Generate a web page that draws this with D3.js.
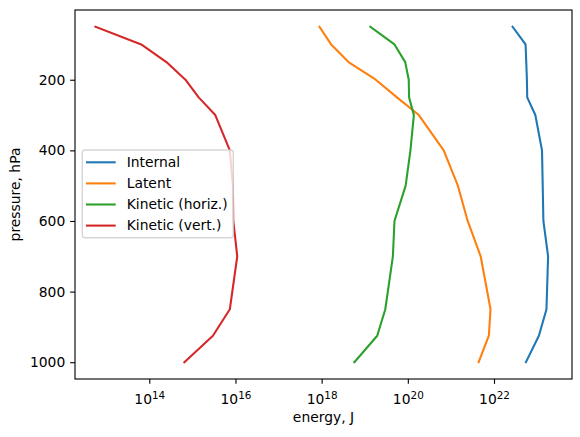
<!DOCTYPE html>
<html>
<head>
<meta charset="utf-8">
<script src="https://cdn.jsdelivr.net/npm/d3@7"></script>
<style>
  body { margin: 0; background: #fff; }
  text { font-family: "DejaVu Sans", sans-serif; fill: #000; }
</style>
</head>
<body>
<div id="chart"></div>
<script>
// pressure levels, hPa
const pressure = [50, 100, 150, 200, 250, 300, 400, 500, 600, 700, 850, 925, 1000];

// energy per level, J
const internal = [2.7e22, 5.4e22, 5.6e22, 5.8e22, 5.9e22, 9.1e22, 1.3e23, 1.35e23, 1.4e23, 1.8e23, 1.65e23, 1.1e23, 5.5e22];
const latent = [8.9e17, 1.66e18, 4.2e18, 1.8e19, 5.6e19, 1.8e20, 6.8e20, 1.45e21, 2.45e21, 4.9e21, 8.3e21, 7.6e21, 4.4e21];
const kineticHoriz = [1.35e19, 4.9e19, 8.7e19, 1.05e20, 1.07e20, 1.38e20, 1.15e20, 8.9e19, 4.9e19, 4.5e19, 3.0e19, 1.95e19, 5.75e18];
const kineticVert = [5.6e12, 6.5e13, 2.5e14, 6.9e14, 1.4e15, 3.4e15, 7.4e15, 8.7e15, 8.9e15, 1.1e16, 7.4e15, 3.0e15, 6.5e14];

const seriesNames = ['Internal', 'Latent', 'Kinetic (horiz.)', 'Kinetic (vert.)'];
const seriesValues = [internal, latent, kineticHoriz, kineticVert];
const colors = ['#1f77b4', '#ff7f0e', '#2ca02c', '#d62728'];

const xTicks = [1e14, 1e16, 1e18, 1e20, 1e22];
const yTicks = [200, 400, 600, 800, 1000];

const W = 580, H = 437;
const m = { left: 75, right: 572, top: 10, bottom: 379 };
const pt = 100 / 72;
const fs = 10 * pt;

const svg = d3.select('#chart').append('svg')
  .attr('width', W).attr('height', H);

const x = d3.scaleLog()
  .domain([Math.pow(10, 12.276), Math.pow(10, 23.81)])
  .range([m.left, m.right]);
const y = d3.scaleLinear()
  .domain([2.5, 1047.5])
  .range([m.top, m.bottom]);

// lines
const line = d3.line()
  .x(d => x(d[0]))
  .y(d => y(d[1]));

seriesValues.forEach((vals, i) => {
  svg.append('path')
    .datum(vals.map((v, j) => [v, pressure[j]]))
    .attr('d', line)
    .attr('fill', 'none')
    .attr('stroke', colors[i])
    .attr('stroke-width', 1.5 * pt)
    .attr('stroke-linejoin', 'round')
    .attr('stroke-linecap', 'square');
});

// axes
const xAxis = svg.append('g')
  .attr('transform', `translate(0,${m.bottom})`)
  .call(d3.axisBottom(x).tickValues(xTicks).tickSize(3.5 * pt).tickFormat(''));
xAxis.select('.domain').remove();
xAxis.selectAll('line').attr('stroke', '#000').attr('stroke-width', 0.8 * pt);
xAxis.selectAll('.tick text').remove();
xAxis.selectAll('.tick').append('text')
  .attr('y', 25)
  .attr('text-anchor', 'middle')
  .style('font-size', fs + 'px')
  .each(function(d) {
    const t = d3.select(this);
    t.append('tspan').text('10');
    t.append('tspan')
      .attr('dy', -4.7)
      .style('font-size', (fs * 0.75) + 'px')
      .text(Math.round(Math.log10(d)));
  });

const yAxis = svg.append('g')
  .attr('transform', `translate(${m.left},0)`)
  .call(d3.axisLeft(y).tickValues(yTicks).tickFormat(d3.format('d'))
    .tickSize(3.5 * pt).tickPadding(3.5 * pt));
yAxis.select('.domain').remove();
yAxis.selectAll('line').attr('stroke', '#000').attr('stroke-width', 0.8 * pt);
yAxis.selectAll('text')
  .attr('fill', '#000')
  .style('font-family', '"DejaVu Sans", sans-serif')
  .style('font-size', fs + 'px');

// frame
svg.append('rect')
  .attr('x', m.left).attr('y', m.top)
  .attr('width', m.right - m.left).attr('height', m.bottom - m.top)
  .attr('fill', 'none')
  .attr('stroke', '#000')
  .attr('stroke-width', 0.8 * pt);

// axis labels
svg.append('text')
  .attr('x', (m.left + m.right) / 2)
  .attr('y', 422.3)
  .attr('text-anchor', 'middle')
  .style('font-size', fs + 'px')
  .text('energy, J');

svg.append('text')
  .attr('transform', `translate(20,${(m.top + m.bottom) / 2}) rotate(-90)`)
  .attr('text-anchor', 'middle')
  .style('font-size', fs + 'px')
  .text('pressure, hPa');

// legend
const legend = svg.append('g');
legend.append('rect')
  .attr('x', 82.3).attr('y', 150)
  .attr('width', 151).attr('height', 87.7)
  .attr('rx', 2.8)
  .attr('fill', '#fff').attr('fill-opacity', 0.8)
  .attr('stroke', '#ccc').attr('stroke-opacity', 0.8)
  .attr('stroke-width', 1 * pt);

seriesNames.forEach((name, i) => {
  const ry = 162.3 + i * 21.1;
  legend.append('line')
    .attr('x1', 86).attr('x2', 115.7)
    .attr('y1', ry).attr('y2', ry)
    .attr('stroke', colors[i])
    .attr('stroke-width', 1.5 * pt);
  legend.append('text')
    .attr('x', 126.7).attr('y', ry)
    .attr('dy', '0.35em')
    .style('font-size', fs + 'px')
    .text(name);
});
</script>
</body>
</html>
